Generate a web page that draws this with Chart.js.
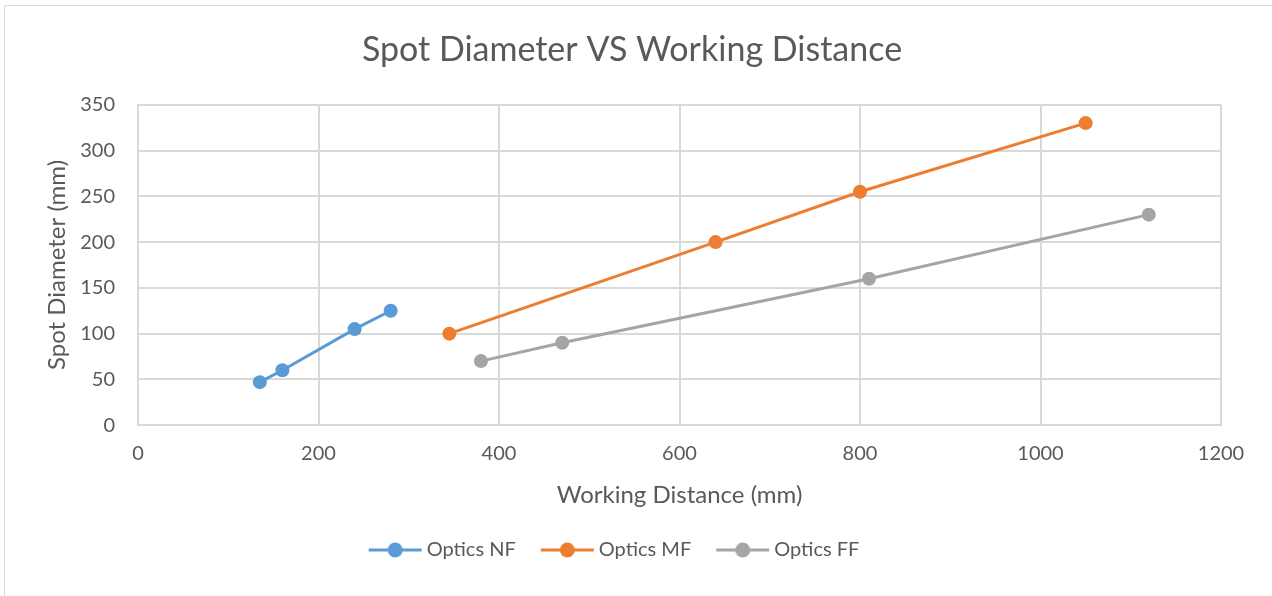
<!DOCTYPE html>
<html>
<head>
<meta charset="utf-8">
<script src="https://cdn.jsdelivr.net/npm/chart.js@4.4.0/dist/chart.umd.min.js"></script>
<style>
    html, body { margin: 0; padding: 0; background: #fff; overflow: hidden; }
    #wrap { position: relative; width: 1272px; height: 596px; }
    #frame { position: absolute; left: 4px; top: 5px; width: 1400px; height: 700px; border: 1px solid #d9d9d9; box-sizing: border-box; }
    canvas { position: absolute; left: 0; top: 0; }
</style>
</head>
<body>
<div id="wrap">
    <div id="frame"></div>
    <canvas id="spotChart" width="1272" height="596"></canvas>
</div>
<script>
// Datos
const seriesNames = ["Optics NF", "Optics MF", "Optics FF"];
const nfDistance = [135, 160, 240, 280];
const nfDiameter = [47, 60, 105, 125];
const mfDistance = [345, 640, 800, 1050];
const mfDiameter = [100, 200, 255, 330];
const ffDistance = [380, 470, 810, 1120];
const ffDiameter = [70, 90, 160, 230];

const COLORS = {
    nf: "#5B9BD5",
    mf: "#ED7D31",
    ff: "#A5A5A5",
    grid: "#D9D9D9",
    text: "#595959"
};

const FONT = "Lato, 'Open Sans', sans-serif";

function toPoints(xs, ys) {
    return xs.map((x, i) => ({ x: x, y: ys[i] }));
}

// icono de leyenda: línea con círculo (con margen transparente para ajustar la posición)
function legendIcon(color) {
    const c = document.createElement('canvas');
    c.width = 70;
    c.height = 16;
    const g = c.getContext('2d');
    const off = 9;
    g.strokeStyle = color;
    g.lineWidth = 3;
    g.beginPath();
    g.moveTo(off, 8);
    g.lineTo(off + 53, 8);
    g.stroke();
    g.fillStyle = color;
    g.beginPath();
    g.arc(off + 26.5, 8, 7.5, 0, Math.PI * 2);
    g.fill();
    return c;
}

function makeDataset(label, xs, ys, color) {
    return {
        label: label,
        data: toPoints(xs, ys),
        borderColor: color,
        backgroundColor: color,
        borderWidth: 3,
        pointRadius: 7,
        pointHoverRadius: 7,
        pointBorderWidth: 0,
        pointBackgroundColor: color,
        showLine: true,
        tension: 0
    };
}

// la leyenda del original está centrada en todo el marco, no en el área del gráfico
const legendShift = {
    id: 'legendShift',
    afterLayout(chart) {
        if (chart.legend) {
            chart.legend.left -= 16;
            chart.legend.right -= 16;
        }
    }
};

document.addEventListener("DOMContentLoaded", function () {
    const ctx = document.getElementById("spotChart");
    const palette = [COLORS.nf, COLORS.mf, COLORS.ff];
    const icons = palette.map(legendIcon);

    new Chart(ctx, {
        type: 'scatter',
        data: {
            datasets: [
                makeDataset(seriesNames[0], nfDistance, nfDiameter, COLORS.nf),
                makeDataset(seriesNames[1], mfDistance, mfDiameter, COLORS.mf),
                makeDataset(seriesNames[2], ffDistance, ffDiameter, COLORS.ff)
            ]
        },
        plugins: [legendShift],
        options: {
            responsive: false,
            animation: false,
            layout: {
                padding: { left: 43, right: 51, top: 0, bottom: 26 }
            },
            scales: {
                x: {
                    type: 'linear',
                    min: 0,
                    max: 1200,
                    ticks: {
                        stepSize: 200,
                        padding: 16,
                        color: COLORS.text,
                        font: { family: FONT, size: 20 },
                        callback: value => String(value)
                    },
                    grid: { color: COLORS.grid, lineWidth: 2, drawTicks: false },
                    border: { color: COLORS.grid, width: 2 },
                    title: {
                        display: true,
                        text: "Working Distance (mm)",
                        color: COLORS.text,
                        font: { family: FONT, size: 24 },
                        padding: { top: 0, bottom: 1 }
                    }
                },
                y: {
                    min: 0,
                    max: 350,
                    afterFit: function (axis) { axis.width = 95; },
                    ticks: {
                        stepSize: 50,
                        padding: 23,
                        color: COLORS.text,
                        font: { family: FONT, size: 20 }
                    },
                    grid: { color: COLORS.grid, lineWidth: 2, drawTicks: false },
                    border: { color: COLORS.grid, width: 2 },
                    title: {
                        display: true,
                        text: "Spot Diameter (mm)",
                        color: COLORS.text,
                        font: { family: FONT, size: 24 },
                        padding: 0
                    }
                }
            },
            plugins: {
                title: {
                    display: true,
                    text: "Spot Diameter VS Working Distance",
                    color: COLORS.text,
                    font: { family: FONT, size: 34, weight: 'normal' },
                    padding: { top: 30, bottom: 34 }
                },
                legend: {
                    position: 'bottom',
                    labels: {
                        usePointStyle: true,
                        pointStyleWidth: 44,
                        padding: 29,
                        color: COLORS.text,
                        font: { family: FONT, size: 20 },
                        generateLabels: function (chart) {
                            return chart.data.datasets.map((ds, i) => ({
                                text: ds.label,
                                fillStyle: palette[i],
                                strokeStyle: palette[i],
                                fontColor: COLORS.text,
                                pointStyle: icons[i],
                                lineWidth: 0,
                                hidden: false,
                                datasetIndex: i
                            }));
                        }
                    }
                },
                tooltip: { enabled: false }
            }
        }
    });
});
</script>
</body>
</html>
